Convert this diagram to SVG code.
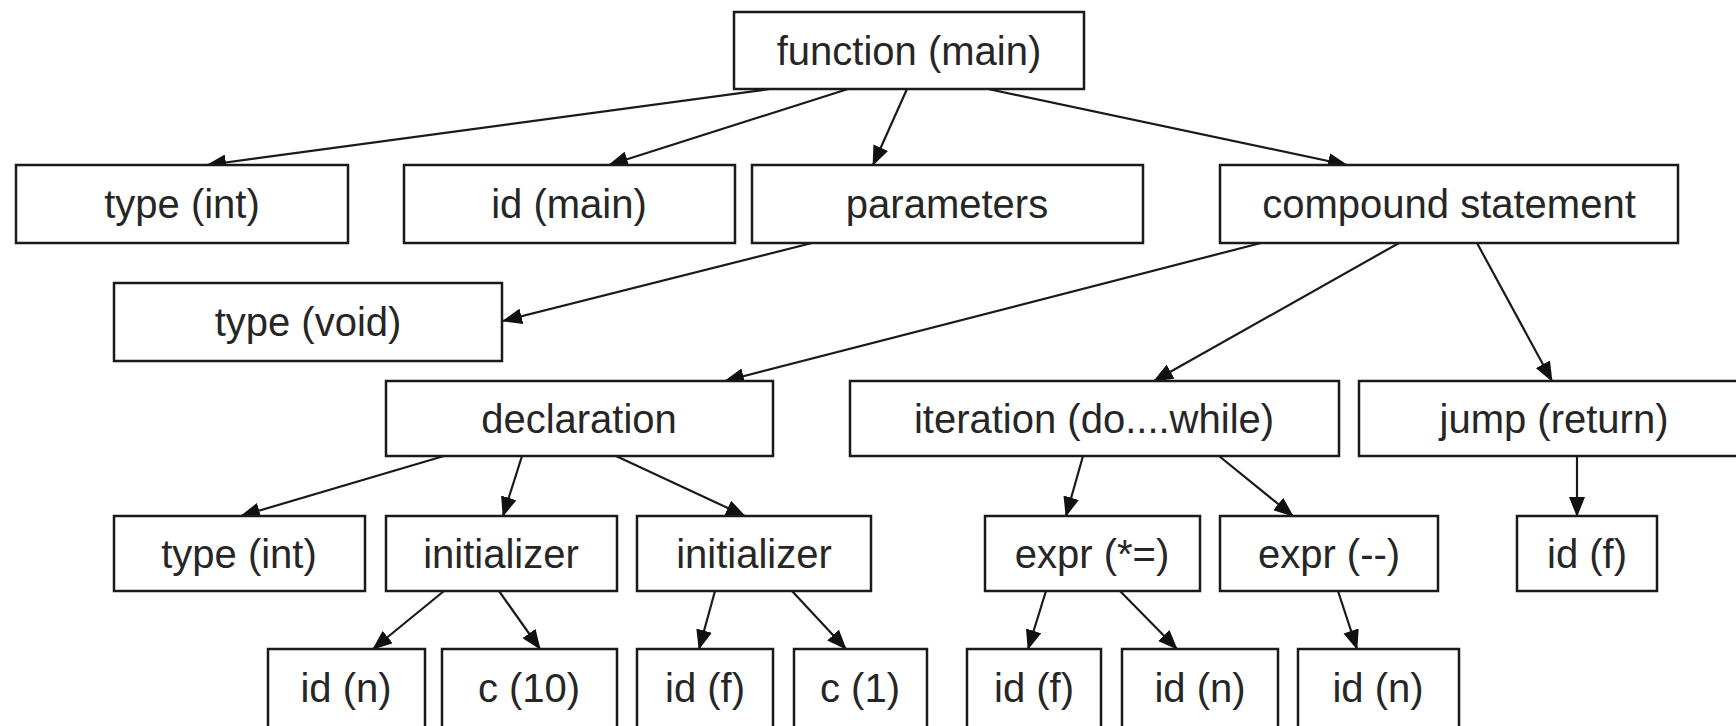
<svg xmlns="http://www.w3.org/2000/svg" width="1736" height="726" viewBox="0 0 1736 726">
  <style>
    .box rect { fill: #ffffff; stroke: #1a1a1a; stroke-width: 2.5; }
    .box text { font-family: "Liberation Sans", Arial, sans-serif; font-size: 40px; fill: #262626; text-anchor: middle; }
    .edge { stroke: #1a1a1a; stroke-width: 2.2; fill: none; marker-end: url(#arrow); }
  </style>
  <defs>
    <marker id="arrow" markerUnits="userSpaceOnUse" markerWidth="20" markerHeight="16" refX="19" refY="8" orient="auto">
      <path d="M0,0 L20,8 L0,16 Z" fill="#111111"/>
    </marker>
  </defs>
  <rect width="1736" height="726" fill="#ffffff"/>

  <!-- connectors -->
  <g id="connectors">
    <line class="edge" x1="770" y1="89" x2="207" y2="165"/>
    <line class="edge" x1="848" y1="89" x2="609" y2="165"/>
    <line class="edge" x1="907" y1="89" x2="873" y2="165"/>
    <line class="edge" x1="988" y1="89" x2="1347" y2="165"/>
    <line class="edge" x1="812" y1="243" x2="503" y2="321"/>
    <line class="edge" x1="1261" y1="243" x2="725" y2="381"/>
    <line class="edge" x1="1399" y1="243" x2="1154" y2="381"/>
    <line class="edge" x1="1477" y1="243" x2="1552" y2="381"/>
    <line class="edge" x1="444" y1="456" x2="241" y2="516"/>
    <line class="edge" x1="522" y1="456" x2="503" y2="516"/>
    <line class="edge" x1="616" y1="456" x2="745" y2="516"/>
    <line class="edge" x1="1083" y1="456" x2="1066" y2="516"/>
    <line class="edge" x1="1219" y1="456" x2="1293" y2="516"/>
    <line class="edge" x1="1577" y1="456" x2="1577" y2="516"/>
    <line class="edge" x1="444" y1="591" x2="373" y2="649"/>
    <line class="edge" x1="499" y1="591" x2="540" y2="649"/>
    <line class="edge" x1="715" y1="591" x2="699" y2="649"/>
    <line class="edge" x1="792" y1="591" x2="846" y2="649"/>
    <line class="edge" x1="1046" y1="591" x2="1028" y2="649"/>
    <line class="edge" x1="1120" y1="591" x2="1177" y2="649"/>
    <line class="edge" x1="1338" y1="591" x2="1357" y2="649"/>
  </g>

  <!-- level 0 -->
  <g id="function-main" class="box"><rect x="734" y="12" width="350" height="77"/><text x="909" y="65">function (main)</text></g>

  <!-- level 1 -->
  <g id="type-int" class="box"><rect x="16" y="165" width="332" height="78"/><text x="182" y="218">type (int)</text></g>
  <g id="id-main" class="box"><rect x="404" y="165" width="331" height="78"/><text x="569" y="218">id (main)</text></g>
  <g id="parameters" class="box"><rect x="752" y="165" width="391" height="78"/><text x="947" y="218">parameters</text></g>
  <g id="compound-statement" class="box"><rect x="1220" y="165" width="458" height="78"/><text x="1449" y="218">compound statement</text></g>

  <!-- level 2 -->
  <g id="type-void" class="box"><rect x="114" y="283" width="388" height="78"/><text x="308" y="336">type (void)</text></g>

  <!-- level 3 -->
  <g id="declaration" class="box"><rect x="386" y="381" width="387" height="75"/><text x="579" y="433">declaration</text></g>
  <g id="iteration" class="box"><rect x="850" y="381" width="489" height="75"/><text x="1094" y="433">iteration (do....while)</text></g>
  <g id="jump-return" class="box"><rect x="1359" y="381" width="390" height="75"/><text x="1554" y="433">jump (return)</text></g>

  <!-- level 4 -->
  <g id="decl-type-int" class="box"><rect x="114" y="516" width="251" height="75"/><text x="239" y="568">type (int)</text></g>
  <g id="initializer-1" class="box"><rect x="386" y="516" width="231" height="75"/><text x="501" y="568">initializer</text></g>
  <g id="initializer-2" class="box"><rect x="637" y="516" width="234" height="75"/><text x="754" y="568">initializer</text></g>
  <g id="expr-mul-assign" class="box"><rect x="985" y="516" width="215" height="75"/><text x="1092" y="568">expr (*=)</text></g>
  <g id="expr-decrement" class="box"><rect x="1220" y="516" width="218" height="75"/><text x="1329" y="568">expr (--)</text></g>
  <g id="ret-id-f" class="box"><rect x="1517" y="516" width="140" height="75"/><text x="1587" y="568">id (f)</text></g>

  <!-- level 5 -->
  <g id="init1-id-n" class="box"><rect x="268" y="649" width="157" height="82"/><text x="346" y="702">id (n)</text></g>
  <g id="init1-c-10" class="box"><rect x="442" y="649" width="175" height="82"/><text x="529" y="702">c (10)</text></g>
  <g id="init2-id-f" class="box"><rect x="637" y="649" width="136" height="82"/><text x="705" y="702">id (f)</text></g>
  <g id="init2-c-1" class="box"><rect x="794" y="649" width="133" height="82"/><text x="860" y="702">c (1)</text></g>
  <g id="mul-id-f" class="box"><rect x="967" y="649" width="134" height="82"/><text x="1034" y="702">id (f)</text></g>
  <g id="mul-id-n" class="box"><rect x="1122" y="649" width="156" height="82"/><text x="1200" y="702">id (n)</text></g>
  <g id="dec-id-n" class="box"><rect x="1298" y="649" width="161" height="82"/><text x="1378" y="702">id (n)</text></g>
</svg>
